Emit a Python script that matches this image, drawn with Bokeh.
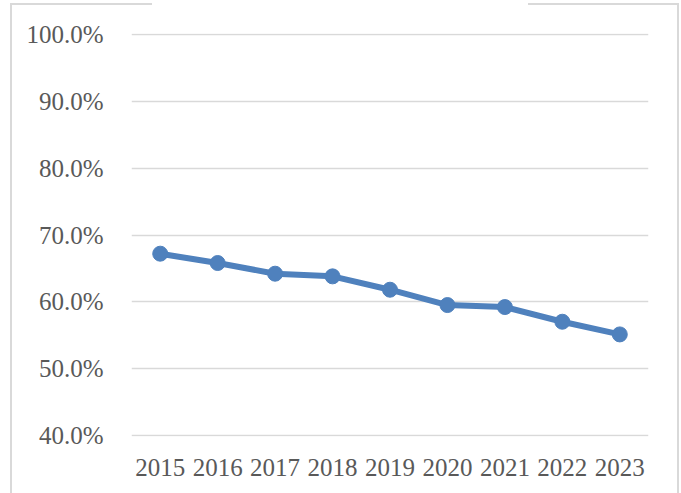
from bokeh.plotting import figure
from bokeh.models import FactorRange, Range1d, NumeralTickFormatter, FixedTicker, InlineStyleSheet
from bokeh.embed import file_html
from bokeh.resources import INLINE

years = ["2015", "2016", "2017", "2018", "2019", "2020", "2021", "2022", "2023"]
values = [0.672, 0.658, 0.642, 0.638, 0.618, 0.595, 0.592, 0.570, 0.551]
y_ticks = [0.4, 0.5, 0.6, 0.7, 0.8, 0.9, 1.0]

LINE = "#4F81BD"
GRID = "#D9D9D9"
TXT = "#595959"
FONT = "Liberation Serif"

p = figure(width=681, height=493, output_backend="svg", toolbar_location=None,
           x_range=FactorRange(*years, range_padding=0),
           y_range=Range1d(0.398, 1.002),
           min_border_left=131, min_border_right=33, min_border_top=33, min_border_bottom=57)
p.outline_line_color = None
p.background_fill_color = "white"
p.border_fill_color = "white"

p.line(years, values, line_color=LINE, line_width=6)
p.scatter(years, values, size=15, fill_color=LINE, line_color=LINE)

p.xgrid.grid_line_color = None
p.ygrid.grid_line_color = GRID
p.ygrid.grid_line_width = 1.5
p.yaxis.ticker = FixedTicker(ticks=y_ticks)
p.yaxis.formatter = NumeralTickFormatter(format="0.0%")

for ax in (p.xaxis[0], p.yaxis[0]):
    ax.axis_line_color = None
    ax.major_tick_line_color = None
    ax.minor_tick_line_color = None
    ax.major_label_text_font = FONT
    ax.major_label_text_font_size = "25px"
    ax.major_label_text_color = TXT
p.yaxis.major_label_standoff = 22
p.xaxis.major_label_standoff = 16

# light gray chart-area border, with a gap in the top edge
p.stylesheets = [InlineStyleSheet(css="""
:host { position: relative; }
:host::before { content: ""; position: absolute; left: 10px; top: 3px; width: 665px; height: 520px;
  border: 2px solid #D9D9D9; border-bottom: none; z-index: 5; pointer-events: none; }
:host::after { content: ""; position: absolute; left: 152px; top: 2px; width: 376px; height: 4px;
  background: white; z-index: 6; pointer-events: none; }
""")]

open("out.html", "w").write(file_html(p, INLINE))
